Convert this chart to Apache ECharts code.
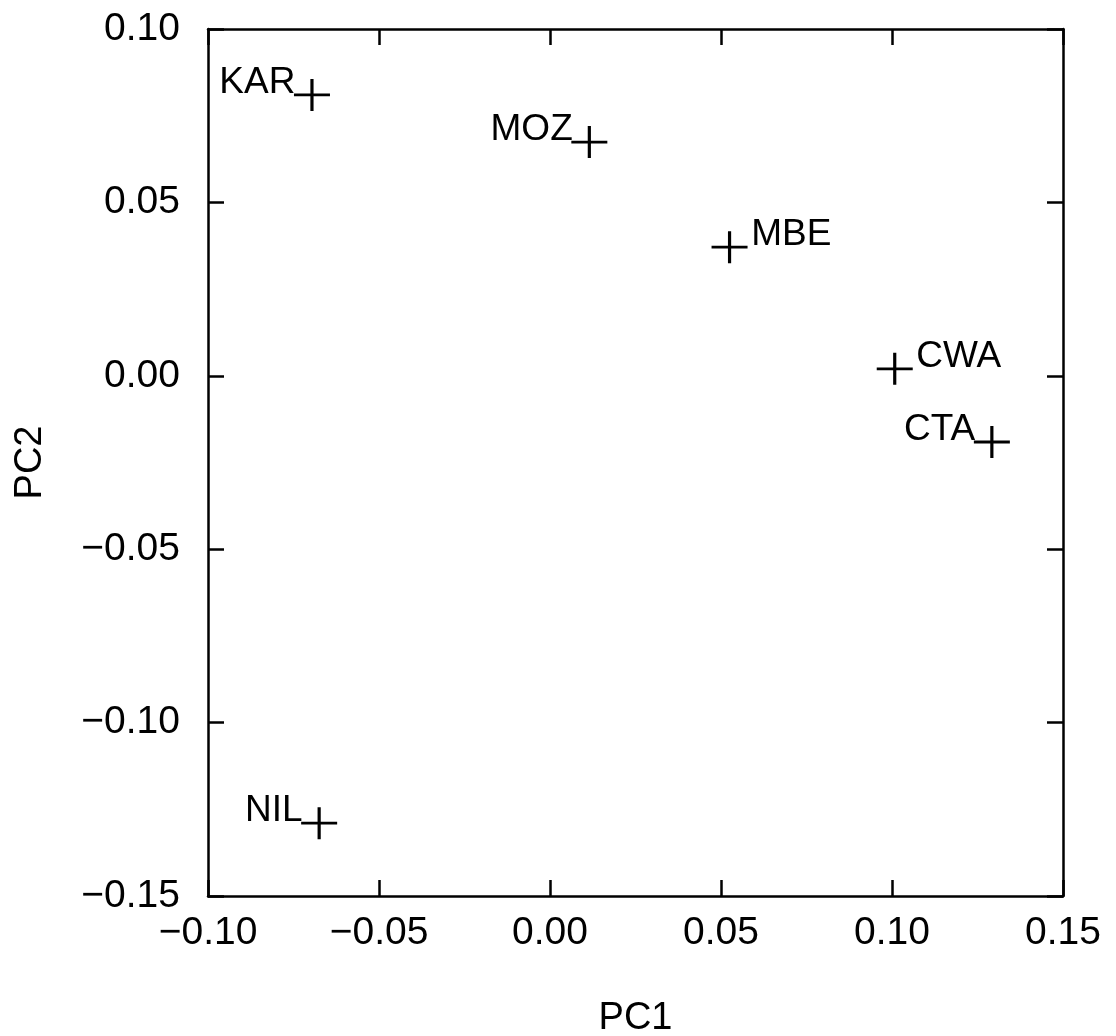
<!DOCTYPE html>
<html>
<head>
<meta charset="utf-8">
<script src="https://cdn.jsdelivr.net/npm/echarts@6/dist/echarts.min.js"></script>
<style>
html,body{margin:0;padding:0;background:#fff;}
#chart{width:1116px;height:1036px;}
</style>
</head>
<body>
<div id="chart"></div>
<script>
// Data
const names = ['KAR', 'MOZ', 'MBE', 'CWA', 'CTA', 'NIL'];
const pc1 = [-0.0696, 0.0115, 0.0525, 0.1008, 0.1292, -0.0675];
const pc2 = [0.0810, 0.0674, 0.0371, 0.0020, -0.0191, -0.1290];
const labelSide = ['left', 'left', 'right', 'right', 'left', 'left'];
const xTickValues = [-0.10, -0.05, 0.00, 0.05, 0.10, 0.15];
const yTickValues = [-0.15, -0.10, -0.05, 0.00, 0.05, 0.10];

const FONT = 'Liberation Sans';
function fmt(v) {
  const r = Math.round(v * 100) / 100;
  return (r < 0 ? '\u2212' : '') + Math.abs(r).toFixed(2);
}

const axisLine = { show: true, onZero: false, lineStyle: { color: '#000', width: 2.5 } };
const axisTick = { show: true, inside: true, length: 16, lineStyle: { color: '#000', width: 2.5 } };

const chart = echarts.init(document.getElementById('chart'), null, { renderer: 'canvas' });
chart.setOption({
  animation: false,
  backgroundColor: '#fff',
  grid: { left: 208, top: 29, right: 53, bottom: 140, containLabel: false, outerBoundsMode: 'none' },
  xAxis: [
    {
      type: 'value', position: 'bottom',
      min: xTickValues[0], max: xTickValues[xTickValues.length - 1], interval: 0.05,
      name: 'PC1', nameLocation: 'middle', nameGap: 104,
      nameTextStyle: { fontFamily: FONT, fontSize: 38, color: '#000' },
      axisLine: axisLine, axisTick: axisTick, splitLine: { show: false },
      axisLabel: { show: true, margin: 18, formatter: fmt, fontFamily: FONT, fontSize: 39, color: '#000' }
    },
    {
      type: 'value', position: 'top',
      min: xTickValues[0], max: xTickValues[xTickValues.length - 1], interval: 0.05,
      axisLine: axisLine, axisTick: axisTick, splitLine: { show: false },
      axisLabel: { show: false }
    }
  ],
  yAxis: [
    {
      type: 'value', position: 'left',
      min: yTickValues[0], max: yTickValues[yTickValues.length - 1], interval: 0.05,
      name: 'PC2', nameLocation: 'middle', nameGap: 158, nameRotate: 90,
      nameTextStyle: { fontFamily: FONT, fontSize: 38, color: '#000' },
      axisLine: axisLine, axisTick: axisTick, splitLine: { show: false },
      axisLabel: { show: true, margin: 28, formatter: fmt, fontFamily: FONT, fontSize: 39, color: '#000' }
    },
    {
      type: 'value', position: 'right',
      min: yTickValues[0], max: yTickValues[yTickValues.length - 1], interval: 0.05,
      axisLine: axisLine, axisTick: axisTick, splitLine: { show: false },
      axisLabel: { show: false }
    }
  ],
  series: [{
    type: 'scatter',
    xAxisIndex: 0, yAxisIndex: 0,
    symbol: 'path://M0,16 L32,16 M16,0 L16,32',
    symbolSize: [36, 32],
    itemStyle: { color: 'rgba(0,0,0,0)', borderColor: '#000', borderWidth: 3, opacity: 1 },
    label: {
      show: true, formatter: '{b}', fontFamily: FONT, fontSize: 37, color: '#000',
      distance: 2, offset: [0, -12]
    },
    emphasis: { disabled: true },
    data: names.map((n, i) => ({
      name: n,
      value: [pc1[i], pc2[i]],
      label: { position: labelSide[i], distance: labelSide[i] === 'left' ? -3 : 2 }
    }))
  }]
});
</script>
</body>
</html>
